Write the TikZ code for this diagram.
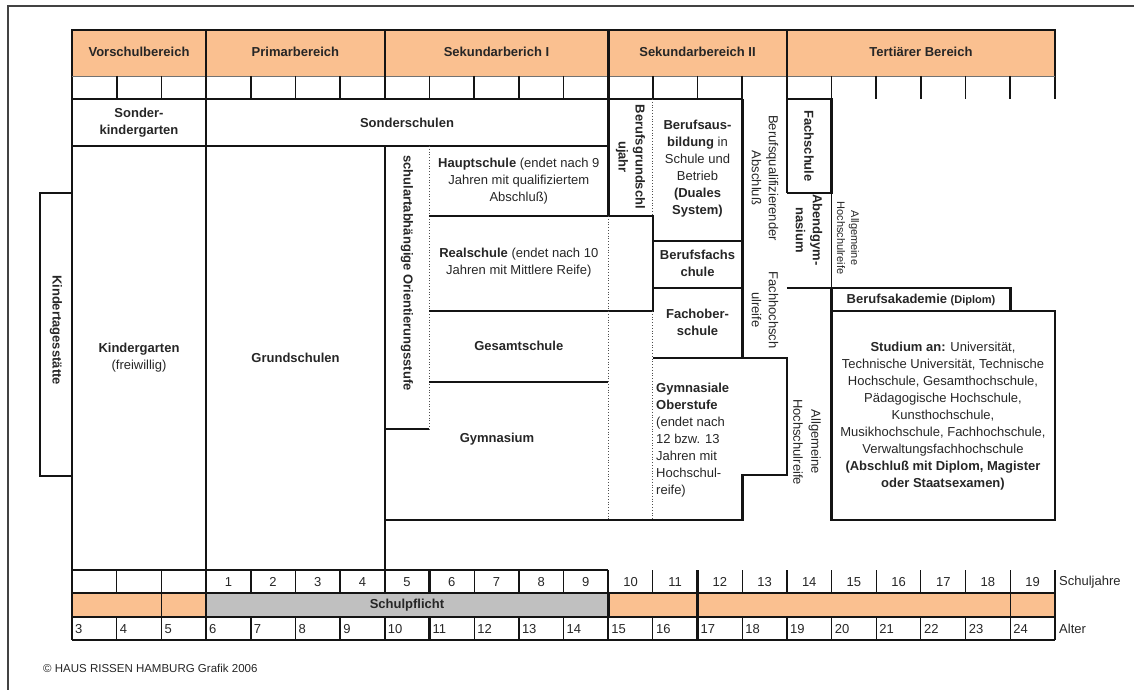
\documentclass[tikz,border=0pt]{standalone}
\usepackage{fontspec}
\setmainfont{Liberation Sans}
\definecolor{org}{HTML}{FAC090}
\definecolor{gry}{HTML}{C0C0C0}
\definecolor{tc}{HTML}{262626}
\definecolor{ln}{HTML}{141414}
\begin{document}
\begin{tikzpicture}[x=1pt,y=-1pt,
  thk/.style={line width=2.6pt, draw=ln},
  med/.style={line width=1.7pt, draw=ln},
  thn/.style={line width=1.1pt, draw=ln},
  dotln/.style={line width=0.8pt, draw=ln!75, dotted},
  lbl/.style={font=\fontsize{13}{17}\selectfont, text=tc, inner sep=0pt, align=center},
  blbl/.style={lbl, font=\fontsize{13}{17}\selectfont\bfseries},
  vlbl/.style={blbl, rotate=-90},
  vtxt/.style={lbl, rotate=-90},
  hdr/.style={blbl},
  num/.style={lbl},
]
\useasboundingbox (0,0) rectangle (1134,690);
% outer frame
\draw[line width=1.2pt, draw=ln!80] (8,690) -- (8,6) -- (1134,6);

% ---------- header ----------
\fill[org] (72,30) rectangle (1055,76);
\draw[thn] (72,99) -- (72,30) -- (1055,30) -- (1055,99);
\draw[line width=0.8pt, draw=ln!60] (72,76) -- (1055,76);
\foreach \i in {1,...,21}{
  \pgfmathsetmacro\xx{72+44.68*\i}
  \draw[med] (\xx,76) -- (\xx,99);
}
\foreach \x in {206,384.8,608.2,786.9} \draw[thk] (\x,30) -- (\x,99);

\node[hdr] (h1) at (139,52) {Vorschulbereich};
\node[hdr] (h2) at (295.4,52) {Primarbereich};
\node[hdr] (h3) at (496.5,52) {Sekundarberich I};
\node[hdr] (h4) at (697.5,52) {Sekundarbereich II};
\node[hdr] (h5) at (921,52) {Tertiärer Bereich};

% ---------- bottom rows fills ----------
\fill[org] (72,593) rectangle (206,617);
\fill[gry] (206,593) rectangle (608.2,617);
\fill[org] (608.2,593) rectangle (1055,617);

% ---------- main box outlines ----------
\draw[thk] (72,99) -- (742.2,99);
\draw[thk] (72,146) -- (608.2,146);
\draw[thk] (72,99) -- (72,570);
\draw[thk] (206,99) -- (206,570);
\draw[thk] (384.8,146) -- (384.8,570);
\draw[thk] (72,570) -- (384.8,570);
% Kindertagesstaette
\draw[thk] (72,193) -- (40,193) -- (40,476) -- (72,476);
% Orientierungsstufe
\draw[thk] (384.8,429) -- (429.4,429);
\draw[dotln] (429.4,146) -- (429.4,429);
% Hauptschule / Realschule / Gesamtschule
\draw[thk] (608.2,99) -- (608.2,216);
\draw[thk] (429.4,216) -- (652.8,216) -- (652.8,311) -- (429.4,311);
\draw[thk] (429.4,382) -- (608.2,382);
\draw[dotln] (608.2,216) -- (608.2,520);
\draw[dotln] (652.8,99) -- (652.8,216);
\draw[dotln] (652.8,311) -- (652.8,520);
% Sek I bottom, Gymnasiale Oberstufe
\draw[thk] (384.8,520) -- (742.2,520) -- (742.2,475) -- (786.9,475) -- (786.9,358) -- (652.8,358);
\draw[thk] (742.2,99) -- (742.2,358);
\draw[med] (652.8,241) -- (742.2,241);
\draw[thk] (652.8,288) -- (742.2,288);
% Fachschule / Abendgymnasium
\draw[thk] (786.9,99) -- (786.9,193);
\draw[thk] (786.9,99) -- (831.6,99) -- (831.6,193) -- (786.9,193);
\draw[med] (831.6,193) -- (831.6,288);
% Berufsakademie / Studium
\draw[thk] (786.9,288) -- (1010.3,288) -- (1010.3,311);
\draw[thk] (831.6,288) -- (831.6,520) -- (1055,520) -- (1055,311) -- (831.6,311);

% ---------- bottom rows lines ----------
\draw[thn] (384.8,570) -- (608.2,570);
\foreach \i in {0,...,22}{
  \pgfmathsetmacro\xx{72+44.68*\i}
  \draw[thn] (\xx,570) -- (\xx,593);
  \draw[thn] (\xx,617) -- (\xx,640);
}
\draw[thn] (161.4,593) -- (161.4,617);
\draw[thn] (1010.3,593) -- (1010.3,617);
\draw[thn] (72,593) -- (72,617);
\draw[thn] (1055,593) -- (1055,617);
\foreach \x in {206,250.7,340.1,384.8,429.4,518.8,608.2,697.5,786.9}{
  \draw[line width=2.2pt, draw=ln] (\x,570) -- (\x,593);
  \draw[line width=2.2pt, draw=ln] (\x,617) -- (\x,640);
}
\draw[line width=2pt, draw=ln] (72,593) -- (1055,593);
\draw[thn] (72,617) -- (1055,617);
\draw[thn] (72,640) -- (1055,640);
\draw[thk] (206,593) rectangle (608.2,617);
\draw[line width=2.2pt, draw=ln] (697.5,593) -- (697.5,617);

\foreach \n in {1,...,19}{
  \pgfmathsetmacro\xx{72+44.68*(\n+2.5)}
  \node[num] (sj\n) at (\xx,582) {\n};
}
\foreach \a in {3,...,24}{
  \pgfmathsetmacro\xx{72+44.68*(\a-3)+3}
  \node[num, anchor=west] (al\a) at (\xx,629) {\a};
}
\node[lbl, anchor=west] (sjl) at (1059,582) {Schuljahre};
\node[lbl, anchor=west] (all) at (1059,629) {Alter};
\node[blbl] (sp) at (407,605) {Schulpflicht};

% ---------- texts ----------
\node[blbl] (sk) at (139,122.5) {Sonder-\\kindergarten};
\node[blbl] (ss) at (407,122.5) {Sonderschulen};
\node[vlbl] (kita) at (56,330) {Kindertagesstätte};
\node[lbl] (kg) at (139,358) {\textbf{Kindergarten}\\(freiwillig)};
\node[blbl] (gs) at (295.5,358) {Grundschulen};
\node[vlbl] (os) at (407,273) {schulartabhängige Orientierungsstufe};
\node[lbl] (hs) at (518.8,181) {\textbf{Hauptschule} (endet nach 9\\Jahren mit qualifiziertem\\Abschluß)};
\node[lbl] (rs) at (518.8,263) {\textbf{Realschule} (endet nach 10\\Jahren mit Mittlere Reife)};
\node[blbl] (ges) at (518.8,346) {Gesamtschule};
\node[blbl] (gym) at (497,439) {Gymnasium};
\node[vlbl] (bgj) at (630.5,157) {Berufsgrundschl\\ujahr};
\node[lbl] (ba) at (697.5,169) {\textbf{Berufsaus-}\\\textbf{bildung} in\\Schule und\\Betrieb\\\textbf{(Duales}\\\textbf{System)}};
\node[blbl] (bfs) at (697.5,263.5) {Berufsfachs\\chule};
\node[blbl] (fos) at (697.5,322) {Fachober-\\schule};
\node[lbl, align=left, anchor=west] (go) at (656,440) {\textbf{Gymnasiale}\\\textbf{Oberstufe}\\(endet nach\\12 bzw. 13\\Jahren mit\\Hochschul-\\reife)};
\node[vtxt] (bq) at (765,178) {Berufsqualifizierender\\Abschluß};
\node[vtxt] (fh) at (765,310) {Fachhochsch\\ulreife};
\node[vlbl] (fs) at (809,146) {Fachschule};
\node[vlbl] (ag) at (809,230) {Abendgym-\\nasium};
\node[vtxt, font=\fontsize{11}{14}\selectfont] (ahr1) at (848,238) {Allgemeine\\Hochschulreife};
\node[vtxt, font=\fontsize{13}{18}\selectfont] (ahr2) at (807,442) {Allgemeine\\Hochschulreife};
\node[lbl] (bak) at (921,299.5) {\textbf{Berufsakademie} {\fontsize{11}{14}\selectfont\bfseries(Diplom)}};
\node[lbl] (st) at (943,416) {\textbf{Studium an:} Universität,\\Technische Universität, Technische\\Hochschule, Gesamthochschule,\\Pädagogische Hochschule,\\Kunsthochschule,\\Musikhochschule, Fachhochschule,\\Verwaltungsfachhochschule\\\textbf{(Abschluß mit Diplom, Magister}\\\textbf{oder Staatsexamen)}};
\node[lbl, anchor=west, font=\fontsize{11.5}{14}\selectfont] (copy) at (43,668) {© HAUS RISSEN HAMBURG Grafik 2006};
\end{tikzpicture}
\end{document}
